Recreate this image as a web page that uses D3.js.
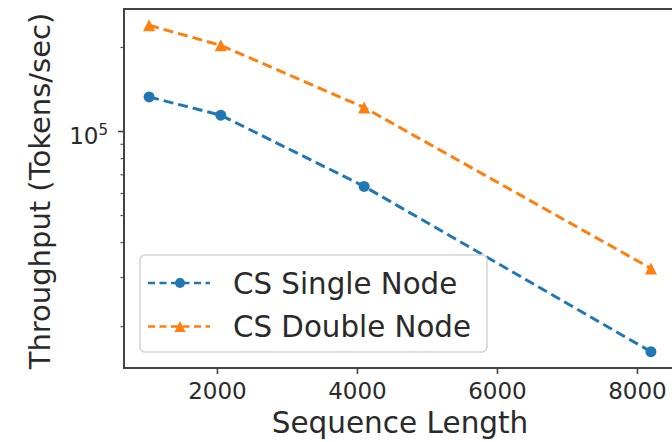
<!DOCTYPE html>
<html>
<head>
<meta charset="utf-8">
<script src="https://cdn.jsdelivr.net/npm/d3@7"></script>
<style>
  html, body { margin: 0; padding: 0; background: #fff; }
  svg { display: block; font-family: "DejaVu Sans", sans-serif; }
</style>
</head>
<body>
<svg id="chart" width="672" height="442"></svg>
<script>
// Throughput vs. sequence length for single- and double-node runs
const seqLengths = [1024, 2048, 4096, 8192];
const singleNode = [133000, 114400, 63600, 16270];
const doubleNode = [240100, 203600, 121900, 32340];
const seriesNames = ["CS Single Node", "CS Double Node"];
const xTickValues = [2000, 4000, 6000, 8000];
const yMajorTicks = [100000];
const yMinorTicks = [20000, 30000, 40000, 50000, 60000, 70000, 80000, 90000, 200000];

const colors = ["#1f77b4", "#ff7f0e"];
const textColor = "#2a2a2a";

const svg = d3.select("#chart");
const plot = { left: 124, right: 676, top: 9, bottom: 368 };

// axis limits padded by 5% like the usual plotting defaults
const xMin = d3.min(seqLengths), xMax = d3.max(seqLengths);
const xPad = (xMax - xMin) * 0.05;
const x = d3.scaleLinear()
  .domain([xMin - xPad, xMax + xPad])
  .range([plot.left, plot.right]);

const allY = singleNode.concat(doubleNode);
const lMin = Math.log10(d3.min(allY)), lMax = Math.log10(d3.max(allY));
const lPad = (lMax - lMin) * 0.05;
const y = d3.scaleLog()
  .domain([Math.pow(10, lMin - lPad), Math.pow(10, lMax + lPad)])
  .range([plot.bottom, plot.top]);

// ticks
const axisG = svg.append("g");
axisG.selectAll("line.xt").data(xTickValues).join("line")
  .attr("x1", d => x(d)).attr("x2", d => x(d))
  .attr("y1", plot.bottom).attr("y2", plot.bottom + 6)
  .attr("stroke", "#444").attr("stroke-width", 1.6);
axisG.selectAll("text.xl").data(xTickValues).join("text")
  .attr("x", d => x(d)).attr("y", 399)
  .attr("text-anchor", "middle")
  .attr("font-size", 23).attr("fill", textColor)
  .text(d => d);

axisG.selectAll("line.ym").data(yMajorTicks).join("line")
  .attr("x1", plot.left - 6).attr("x2", plot.left)
  .attr("y1", d => y(d)).attr("y2", d => y(d))
  .attr("stroke", "#444").attr("stroke-width", 1.6);
axisG.selectAll("line.yn").data(yMinorTicks).join("line")
  .attr("x1", plot.left - 3.5).attr("x2", plot.left)
  .attr("y1", d => y(d)).attr("y2", d => y(d))
  .attr("stroke", "#555").attr("stroke-width", 1.2);

yMajorTicks.forEach(v => {
  const exp = Math.round(Math.log10(v));
  const t = axisG.append("text")
    .attr("x", plot.left - 16).attr("y", y(v) + 12.5)
    .attr("text-anchor", "end")
    .attr("font-size", 23).attr("fill", textColor);
  t.append("tspan").text("10");
  t.append("tspan").attr("dy", -9).attr("font-size", 15).text(exp);
});

// frame
svg.append("rect")
  .attr("x", plot.left).attr("y", plot.top)
  .attr("width", plot.right - plot.left).attr("height", plot.bottom - plot.top)
  .attr("fill", "none").attr("stroke", "#444").attr("stroke-width", 2);

// series
const series = [singleNode, doubleNode];
const line = d3.line().x((d, i) => x(seqLengths[i])).y(d => y(d));
const triangle = s => `M0,${-s / 2}L${s / 2},${s / 2}L${-s / 2},${s / 2}Z`;

series.forEach((vals, si) => {
  svg.append("path")
    .datum(vals)
    .attr("d", line)
    .attr("fill", "none")
    .attr("stroke", colors[si])
    .attr("stroke-width", 3)
    .attr("stroke-dasharray", "10,5");
  const pts = svg.append("g").selectAll("path").data(vals).join("path")
    .attr("transform", (d, i) => `translate(${x(seqLengths[i])},${y(d)})`)
    .attr("fill", colors[si]);
  if (si === 0) pts.attr("d", d3.symbol(d3.symbolCircle, Math.PI * 5.5 * 5.5)());
  else pts.attr("d", triangle(12));
});

// legend
const legend = svg.append("g");
legend.append("rect")
  .attr("x", 140).attr("y", 255).attr("width", 347).attr("height", 97)
  .attr("rx", 5).attr("ry", 5)
  .attr("fill", "#fff").attr("fill-opacity", 0.85)
  .attr("stroke", "#d4d4d4").attr("stroke-width", 1.5);

const rowY = [283, 326.5];
seriesNames.forEach((name, si) => {
  const g = legend.append("g").attr("transform", `translate(0,${rowY[si]})`);
  g.append("line")
    .attr("x1", 148).attr("x2", 210).attr("y1", 0).attr("y2", 0)
    .attr("stroke", colors[si]).attr("stroke-width", 2.6)
    .attr("stroke-dasharray", "7,4.5");
  const m = g.append("path").attr("transform", "translate(180,0)").attr("fill", colors[si]);
  if (si === 0) m.attr("d", d3.symbol(d3.symbolCircle, Math.PI * 5 * 5)());
  else m.attr("d", triangle(11));
  g.append("text")
    .attr("x", 233).attr("y", 10.5)
    .attr("font-size", 29.3).attr("fill", textColor)
    .text(name);
});

// axis titles
svg.append("text")
  .attr("x", (plot.left + plot.right) / 2).attr("y", 433)
  .attr("text-anchor", "middle")
  .attr("font-size", 29.5).attr("fill", textColor)
  .text("Sequence Length");

svg.append("text")
  .attr("transform", "translate(50,191) rotate(-90)")
  .attr("text-anchor", "middle")
  .attr("font-size", 29).attr("fill", textColor)
  .text("Throughput (Tokens/sec)");
</script>
</body>
</html>
